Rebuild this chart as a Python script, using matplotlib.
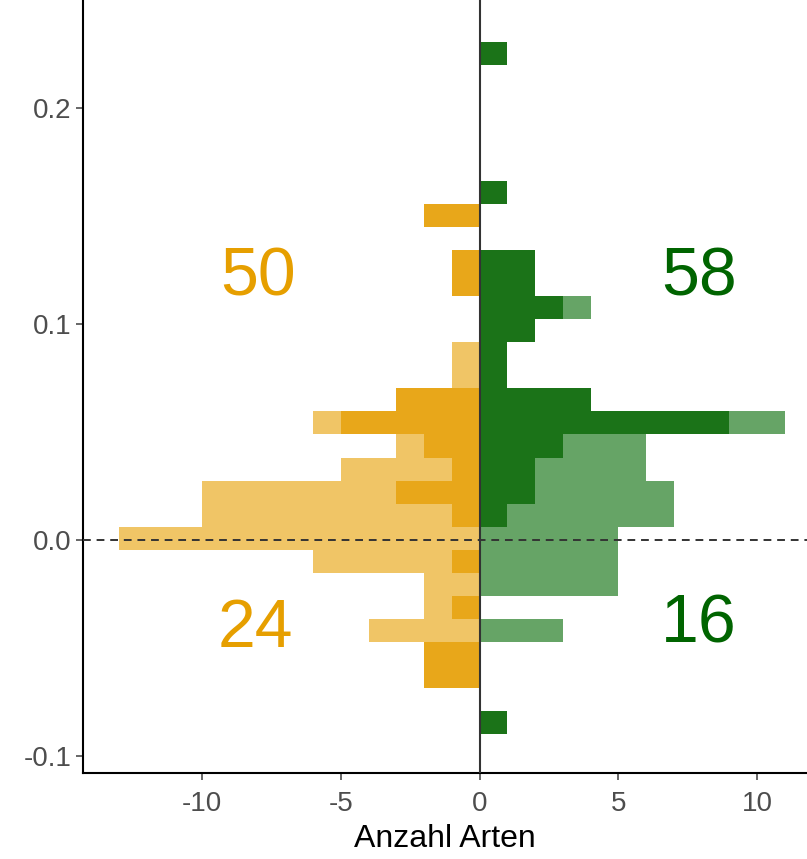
import numpy as np
import matplotlib
matplotlib.use('Agg')
import matplotlib.pyplot as plt

plt.rcParams['font.family'] = ['Liberation Sans', 'DejaVu Sans']
plt.rcParams['axes.unicode_minus'] = False

# histogram bins (30 bins, ggplot default), counts from bottom to top
bin_start = 0.006157 - 9 * 0.010685
bin_width = 0.010685

# green side: light = all species, dark = subset
green_all = [1, 0, 0, 0, 3, 0, 5, 5, 5, 7, 7, 6, 6, 11, 4, 1, 1, 2, 4, 2, 2, 0, 0, 1, 0, 0, 0, 0, 0, 1]
green_sub = [1, 0, 0, 0, 0, 0, 0, 0, 0, 1, 2, 2, 3, 9, 4, 1, 1, 2, 3, 2, 2, 0, 0, 1, 0, 0, 0, 0, 0, 1]

# orange side (plotted to the left)
orange_all = [0, 0, 2, 2, 4, 2, 2, 6, 13, 10, 10, 5, 3, 6, 3, 1, 1, 0, 0, 1, 1, 0, 2, 0, 0, 0, 0, 0, 0, 0]
orange_sub = [0, 0, 2, 2, 0, 1, 0, 1, 0, 1, 3, 1, 2, 5, 3, 0, 0, 0, 0, 1, 1, 0, 2, 0, 0, 0, 0, 0, 0, 0]

labels = ['50', '58', '24', '16']

centres = bin_start + bin_width * (np.arange(len(green_all)) + 0.5)

fig = plt.figure(figsize=(8.07, 8.59), dpi=100)
ax = fig.add_axes([83 / 807, 86.3 / 859, 1 - 83 / 807, 772.7 / 859])

ax.barh(centres, green_all, height=bin_width, color='#66A466', linewidth=0)
ax.barh(centres, green_sub, height=bin_width, color='#1B7318', linewidth=0)
ax.barh(centres, -np.array(orange_all), height=bin_width, color='#F0C566', linewidth=0)
ax.barh(centres, -np.array(orange_sub), height=bin_width, color='#E8A71A', linewidth=0)

ax.axvline(0, color='#333333', lw=1.5, zorder=3)
ax.axhline(0, color='#333333', lw=1.4, ls=(0, (4, 3)), zorder=3)

big = dict(fontsize=49, ha='center', va='center')
ax.text(-8.0, 0.1215, labels[0], color='#E69F00', **big)
ax.text(7.9, 0.1215, labels[1], color='#006400', **big)
ax.text(-8.1, -0.0412, labels[2], color='#E69F00', **big)
ax.text(7.9, -0.0392, labels[3], color='#006400', **big)

ax.set_xlim(-14.3, 11.8)
ax.set_ylim(-0.1077, 0.25)
ax.set_xticks([-10, -5, 0, 5, 10])
ax.set_yticks([-0.1, 0.0, 0.1, 0.2])
ax.set_yticklabels(['-0.1', '0.0', '0.1', '0.2'])
ax.tick_params(colors='#4D4D4D', labelsize=20, length=5, width=1.2)
ax.tick_params(axis='x', pad=8)
ax.set_xlabel('Anzahl Arten', fontsize=23, color='black', labelpad=5)

for side in ['top', 'right']:
    ax.spines[side].set_visible(False)
for side in ['left', 'bottom']:
    ax.spines[side].set_linewidth(1.5)
    ax.spines[side].set_color('black')

plt.savefig('out.png', dpi=100)
